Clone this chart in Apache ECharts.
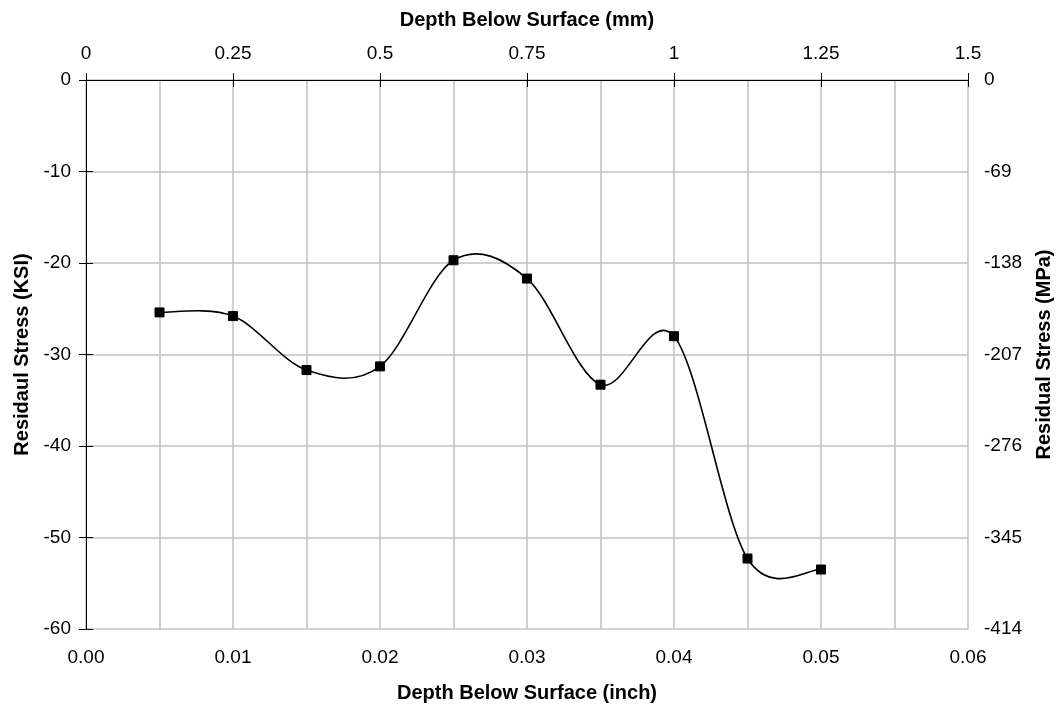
<!DOCTYPE html>
<html>
<head>
<meta charset="utf-8">
<title>Residual Stress vs Depth</title>
<script src="https://cdn.jsdelivr.net/npm/echarts@6/dist/echarts.min.js"></script>
<style>
  html, body { margin: 0; padding: 0; background: #ffffff; }
  #chart { width: 1062px; height: 711px; }
</style>
</head>
<body>
<div id="chart"></div>
<script>
// Measured depth below the surface (inch)
const depthInch = [0.005, 0.010, 0.015, 0.020, 0.025, 0.030, 0.035, 0.040, 0.045, 0.050];
// Residual stress at each depth (KSI)
const stressKsi = [-25.4, -25.8, -31.7, -31.3, -19.7, -21.7, -33.3, -28.0, -52.3, -53.5];

// Axis ranges / tick steps
const inchAxis = { min: 0, max: 0.06, interval: 0.01 };
const mmAxis = { min: 0, max: 1.5, interval: 0.25 };
const ksiAxis = { min: -60, max: 0, interval: 10 };
const mpaAxis = { min: -414, max: 0, interval: 69 };

const FONT = '"Liberation Sans", Arial, sans-serif';
const GRID_COLOR = '#c0c0c0';
const tickLabel = { color: '#000', fontFamily: FONT, fontSize: 19 };
const axisTitle = { color: '#000', fontFamily: FONT, fontSize: 20, fontWeight: 'bold' };
const blackLine = { lineStyle: { color: '#000', width: 1 } };

const points = depthInch.map((d, i) => [d, stressKsi[i]]);
const n = points.length;

// Smoothed curve: one cubic Bezier per segment, Catmull-Rom style tangents
// (control points at 1/6 of the neighbour chord), computed in pixel space.
function renderSegment(params, api) {
  const i = params.dataIndex;
  if (i >= n - 1) return null;
  const P = j => api.coord(points[Math.max(0, Math.min(n - 1, j))]);
  const p0 = P(i - 1), p1 = P(i), p2 = P(i + 1), p3 = P(i + 2);
  return {
    type: 'bezierCurve',
    shape: {
      x1: p1[0], y1: p1[1],
      x2: p2[0], y2: p2[1],
      cpx1: p1[0] + (p2[0] - p0[0]) / 6,
      cpy1: p1[1] + (p2[1] - p0[1]) / 6,
      cpx2: p2[0] - (p3[0] - p1[0]) / 6,
      cpy2: p2[1] - (p3[1] - p1[1]) / 6
    },
    style: { stroke: '#000', lineWidth: 1.6, fill: null }
  };
}

const chart = echarts.init(document.getElementById('chart'), null, { renderer: 'canvas' });

chart.setOption({
  backgroundColor: '#ffffff',
  animation: false,
  grid: { left: 86, right: 94, top: 80, bottom: 82, containLabel: false },
  xAxis: [
    {
      type: 'value', position: 'bottom',
      min: inchAxis.min, max: inchAxis.max, interval: inchAxis.interval,
      name: 'Depth Below Surface (inch)', nameLocation: 'middle', nameGap: 54,
      nameTextStyle: axisTitle,
      axisLine: blackLine,
      axisTick: { show: true, inside: false, length: 6, lineStyle: { color: '#000' } },
      axisLabel: Object.assign({ margin: 19, formatter: v => v.toFixed(2) }, tickLabel),
      splitLine: { show: true, lineStyle: { color: GRID_COLOR, width: 1.5 } },
      minorTick: { show: false, splitNumber: 2 },
      minorSplitLine: { show: true, lineStyle: { color: GRID_COLOR, width: 1.5 } }
    },
    {
      type: 'value', position: 'top',
      min: mmAxis.min, max: mmAxis.max, interval: mmAxis.interval,
      name: 'Depth Below Surface (mm)', nameLocation: 'middle', nameGap: 50,
      nameTextStyle: axisTitle,
      axisLine: blackLine,
      axisTick: { show: true, inside: false, length: 7, lineStyle: { color: '#000' } },
      axisLabel: Object.assign({ margin: 17 }, tickLabel),
      splitLine: { show: false }
    },
    {
      // inner half of the crossing ticks on the mm axis
      type: 'value', position: 'top',
      min: mmAxis.min, max: mmAxis.max, interval: mmAxis.interval,
      axisLine: { show: false },
      axisTick: { show: true, inside: true, length: 7, lineStyle: { color: '#000' } },
      axisLabel: { show: false },
      splitLine: { show: false }
    }
  ],
  yAxis: [
    {
      type: 'value', position: 'left',
      min: ksiAxis.min, max: ksiAxis.max, interval: ksiAxis.interval,
      name: 'Residaul Stress (KSI)', nameLocation: 'middle', nameGap: 54, nameRotate: 90,
      nameTextStyle: axisTitle,
      axisLine: { show: true, lineStyle: { color: '#000', width: 1 } },
      axisTick: { show: true, inside: false, length: 6, lineStyle: { color: '#000' } },
      axisLabel: Object.assign({ margin: 15 }, tickLabel),
      splitLine: { show: true, lineStyle: { color: GRID_COLOR, width: 1.5 } }
    },
    {
      type: 'value', position: 'right',
      min: mpaAxis.min, max: mpaAxis.max, interval: mpaAxis.interval,
      name: 'Residual Stress (MPa)', nameLocation: 'middle', nameGap: 66, nameRotate: 90,
      nameTextStyle: axisTitle,
      axisLine: { show: true, lineStyle: { color: '#000', width: 1 } },
      axisTick: { show: true, inside: false, length: 7, lineStyle: { color: '#000' } },
      axisLabel: Object.assign({ margin: 16 }, tickLabel),
      splitLine: { show: false }
    },
    {
      // inner half of the crossing ticks on the MPa axis
      type: 'value', position: 'right',
      min: mpaAxis.min, max: mpaAxis.max, interval: mpaAxis.interval,
      axisLine: { show: false },
      axisTick: { show: true, inside: true, length: 7, lineStyle: { color: '#000' } },
      axisLabel: { show: false },
      splitLine: { show: false }
    }
  ],
  series: [
    {
      type: 'custom',
      xAxisIndex: 0,
      yAxisIndex: 0,
      data: points,
      renderItem: renderSegment,
      silent: true,
      z: 4
    },
    {
      type: 'scatter',
      xAxisIndex: 0,
      yAxisIndex: 0,
      data: points,
      symbol: 'rect',
      symbolSize: 9,
      itemStyle: { color: '#000', borderColor: '#000', opacity: 1 },
      z: 5
    }
  ]
});
</script>
</body>
</html>
